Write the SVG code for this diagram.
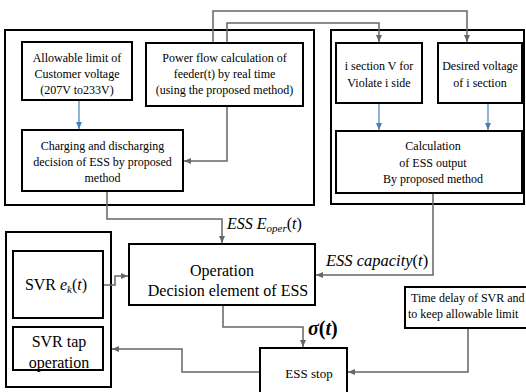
<svg xmlns="http://www.w3.org/2000/svg" width="526" height="392" viewBox="0 0 526 392">
<defs>
<style>
text{font-family:'Liberation Serif','DejaVu Serif',serif;fill:#000}
.box{fill:#fff;stroke:#000;stroke-width:2}
.outer{fill:none;stroke:#000;stroke-width:2}
.t{font-size:12px;text-anchor:middle}
.tl{font-size:16px;text-anchor:middle}
.m{font-size:16px;font-style:italic}
.c{fill:none;stroke:#666;stroke-width:1.5}
.b{fill:none;stroke:#4a7ebb;stroke-width:1.2}
</style>
<marker id="ag" markerWidth="8" markerHeight="8" refX="7" refY="4" orient="auto" markerUnits="userSpaceOnUse"><path d="M0,1 L7,4 L0,7 Z" fill="#666"/></marker>
<marker id="ab" markerWidth="8" markerHeight="8" refX="7" refY="4" orient="auto" markerUnits="userSpaceOnUse"><path d="M0,1 L7,4 L0,7 Z" fill="#4a7ebb"/></marker>
</defs>
<rect width="526" height="392" fill="#fff"/>
<g id="groups">
<rect class="outer" x="5" y="30" width="309" height="175"/>
<rect class="outer" x="331" y="30" width="193" height="174"/>
<rect class="outer" x="6" y="232" width="105" height="155"/>
</g>
<g id="connectors">
<path class="c" d="M213,43 V11 H467 V42" marker-end="url(#ag)"/>
<path class="c" d="M227,43 V23 H379 V42" marker-end="url(#ag)"/>
<path class="c" d="M227,106 V161 H184" marker-end="url(#ag)"/>
<path class="b" d="M79,100 V129" marker-end="url(#ab)"/>
<path class="b" d="M379,103 V130" marker-end="url(#ab)"/>
<path class="b" d="M488,103 V130" marker-end="url(#ab)"/>
<path class="c" d="M107,191 V219 H222 V243" marker-end="url(#ag)"/>
<path class="c" d="M433,193 V275 H316" marker-end="url(#ag)"/>
<path class="c" d="M103,285 H115 V276 H128" marker-end="url(#ag)"/>
<path class="c" d="M223,305 V327 H303 V347" marker-end="url(#ag)"/>
<path class="c" d="M468,328 V372 H348" marker-end="url(#ag)"/>
<path class="c" d="M260,372 H182 V349 H112" marker-end="url(#ag)"/>
</g>
<g id="n-allowable">
<rect class="box" x="22" y="42" width="110" height="58"/>
<text class="t" x="77" y="61.5">Allowable limit of</text>
<text class="t" x="77" y="77.5">Customer voltage</text>
<text class="t" x="77" y="93.5">(207V to233V)</text>
</g>
<g id="n-powerflow">
<rect class="box" x="146" y="43" width="157" height="63"/>
<text class="t" x="224.5" y="61.5">Power flow calculation of</text>
<text class="t" x="224.5" y="77.5">feeder(t) by real time</text>
<text class="t" x="224.5" y="93.5">(using the proposed method)</text>
</g>
<g id="n-charging">
<rect class="box" x="22" y="130" width="161" height="61"/>
<text class="t" x="102.5" y="150">Charging and discharging</text>
<text class="t" x="102.5" y="166">decision of ESS by proposed</text>
<text class="t" x="102.5" y="182">method</text>
</g>
<g id="n-isection">
<rect class="box" x="336" y="43" width="86" height="60"/>
<text class="t" x="379" y="69.5">i section V for</text>
<text class="t" x="379" y="86.5">Violate i side</text>
</g>
<g id="n-desired">
<rect class="box" x="438" y="43" width="84" height="60"/>
<text class="t" x="480" y="69.5">Desired voltage</text>
<text class="t" x="480" y="86.5">of i section</text>
</g>
<g id="n-calc">
<rect class="box" x="336" y="131" width="186" height="62"/>
<text class="t" x="433" y="149.5">Calculation</text>
<text class="t" x="433" y="166.5">of ESS output</text>
<text class="t" x="433" y="183">By proposed method</text>
</g>
<g id="n-operation">
<rect class="box" x="129" y="244" width="186" height="61"/>
<text class="tl" x="222" y="276">Operation</text>
<text class="tl" x="228" y="296">Decision element of ESS</text>
</g>
<g id="n-svrek">
<rect class="box" x="13" y="251" width="90" height="67"/>
<text class="tl" x="56" y="290">SVR <tspan font-style="italic">e</tspan><tspan font-style="italic" font-size="11" dy="3">k</tspan><tspan dy="-3">(</tspan><tspan font-style="italic">t</tspan>)</text>
</g>
<g id="n-svrtap">
<rect class="box" x="13" y="327" width="90" height="43"/>
<text class="tl" x="59" y="347">SVR tap</text>
<text class="tl" x="59" y="368">operation</text>
</g>
<g id="n-essstop">
<rect class="box" x="260" y="348" width="87" height="50"/>
<text class="t" x="309" y="378" style="font-size:13px">ESS stop</text>
</g>
<g id="n-timedelay">
<rect class="box" x="405" y="287" width="125" height="41"/>
<text class="t" x="411" y="302" style="text-anchor:start">Time delay of SVR and</text>
<text class="t" x="408" y="318" style="text-anchor:start">to keep allowable limit</text>
</g>
<g id="labels">
<text class="m" x="227" y="229">ESS E<tspan font-size="11" dy="3">oper</tspan><tspan dy="-3" font-style="normal">(</tspan>t<tspan font-style="normal">)</tspan></text>
<text class="m" x="326" y="266" style="font-size:16.5px">ESS capacity<tspan font-style="normal">(</tspan>t<tspan font-style="normal">)</tspan></text>
<text class="m" x="308" y="335" style="font-size:20px;font-weight:bold">σ<tspan font-style="normal">(</tspan>t<tspan font-style="normal">)</tspan></text>
</g>
</svg>
